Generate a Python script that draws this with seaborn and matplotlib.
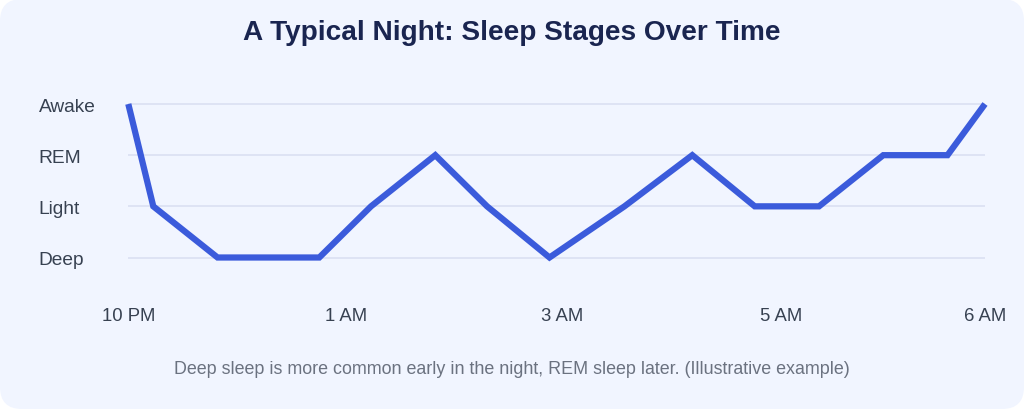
import matplotlib
matplotlib.use("Agg")
import matplotlib.pyplot as plt
import seaborn as sns
import pandas as pd
from matplotlib.patches import FancyBboxPatch

# ---- data ----
minutes = [0, 14, 50, 107, 136, 172, 201, 236, 278, 316, 351, 387, 423, 459, 480]
stages = ["Awake", "Light", "Deep", "Deep", "Light", "REM", "Light", "Deep",
          "Light", "REM", "Light", "Light", "REM", "REM", "Awake"]
stage_order = ["Deep", "Light", "REM", "Awake"]
tick_minutes = [0, 122, 243, 366, 480]
tick_labels = ["10 PM", "1 AM", "3 AM", "5 AM", "6 AM"]

title = "A Typical Night: Sleep Stages Over Time"
caption = "Deep sleep is more common early in the night, REM sleep later. (Illustrative example)"

df = pd.DataFrame({"minute": minutes,
                   "level": [stage_order.index(s) for s in stages]})

sns.set_theme(style="white")
plt.rcParams["font.family"] = ["Liberation Sans", "DejaVu Sans"]

W, H = 1024, 410
fig = plt.figure(figsize=(W / 100, H / 100), dpi=100, facecolor="white")

card = FancyBboxPatch((0, 0), W / 100, H / 100,
                      boxstyle="round,pad=0,rounding_size=0.22",
                      transform=fig.dpi_scale_trans,
                      facecolor="#f1f5ff", edgecolor="none", zorder=-10)
fig.patches.append(card)

# axes geometry (pixels)
x0, x1 = 128.3, 985.0
y_deep, y_awake = 258.5, 105.0
unit = (y_deep - y_awake) / 3
ymin, ymax = -0.4, 3.4
bot_px = y_deep + 0.4 * unit
top_px = y_awake - 0.4 * unit
ax = fig.add_axes([x0 / W, 1 - bot_px / H, (x1 - x0) / W, (bot_px - top_px) / H])
ax.set_zorder(1)
ax.set_facecolor("none")

sns.lineplot(data=df, x="minute", y="level", ax=ax, color="#3b5bdb",
             linewidth=4.5, clip_on=False, solid_joinstyle="miter",
             solid_capstyle="butt", zorder=3)

ax.set_xlim(0, 480)
ax.set_ylim(ymin, ymax)
ax.set_yticks(range(len(stage_order)))
ax.set_yticklabels(stage_order, ha="left")
ax.set_xticks(tick_minutes)
ax.set_xticklabels(tick_labels)
ax.tick_params(axis="y", length=0, pad=(x0 - 38.5) * 0.72, labelsize=13.8, labelcolor="#374151")
ax.tick_params(axis="x", length=0, pad=21, labelsize=13.3, labelcolor="#374151")
ax.yaxis.grid(True, color="#dce2f3", linewidth=1.3)
ax.xaxis.grid(False)
ax.set_axisbelow(True)
for s in ax.spines.values():
    s.set_visible(False)
ax.set_xlabel("")
ax.set_ylabel("")

fig.text(0.5, 1 - 33 / H, title, ha="center", va="center", fontsize=20.2,
         fontweight="bold", color="#1a2550")
fig.text(0.5, 1 - 369.5 / H, caption, ha="center", va="center", fontsize=12.9,
         color="#6b7280")

fig.savefig("out.png", dpi=100, facecolor="white")
